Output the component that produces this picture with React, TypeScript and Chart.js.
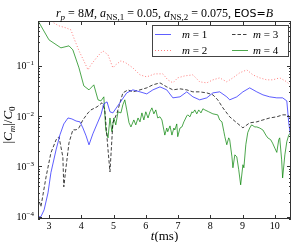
import React, { useEffect, useRef } from "react";
import { Chart, registerables } from "chart.js";
Chart.register(...registerables);

const xTicks = [3, 4, 5, 6, 7, 8, 9, 10];
const yTicks = [1e-4, 1e-3, 1e-2, 1e-1];
const yTickExp = ["\u22124", "\u22123", "\u22122", "\u22121"];
const legendNums = ["1", "2", "3", "4"];

const t1 = [2.66,2.75,2.85,2.97,3.06,3.22,3.34,3.46,3.59,3.71,3.84,3.96,4.05,4.15,4.24,4.36,4.49,4.61,4.70,4.80,4.89,4.98,5.11,5.26,5.41,5.60,5.82,6.03,6.22,6.44,6.65,6.84,7.06,7.27,7.46,7.67,7.89,8.08,8.29,8.51,8.60,8.82,9.01,9.22,9.44,9.63,9.84,10.06,10.24,10.37,10.43,10.49];
const m1 = [1e-4,1e-4,1.37e-4,2.98e-4,7.5e-4,2.14e-3,4.25e-3,7e-3,9.2e-3,8.8e-3,8e-3,7.7e-3,5.85e-3,4.05e-3,2.69e-3,4.45e-3,7e-3,0.0106,0.0176,0.0192,0.0122,0.0116,0.0153,0.0211,0.029,0.0333,0.0304,0.0277,0.0333,0.0382,0.0333,0.0231,0.0242,0.0304,0.0242,0.0211,0.0231,0.029,0.0304,0.0242,0.0211,0.0242,0.0304,0.0365,0.0304,0.0265,0.0242,0.0231,0.0231,0.0201,0.0074,0.0039];

const t2 = [3.0,3.15,3.31,3.53,3.68,3.77,3.93,4.08,4.21,4.30,4.52,4.67,4.83,4.98,5.07,5.23,5.38,5.60,5.82,6.03,6.28,6.53,6.68,6.84,6.99,7.21,7.46,7.67,7.89,8.08,8.29,8.51,8.70,8.91,9.13,9.32,9.53,9.75,9.93,10.15,10.37,10.46];
const m2 = [0.85,0.716,0.624,0.569,0.52,0.36,0.199,0.126,0.0832,0.105,0.158,0.199,0.166,0.0912,0.105,0.126,0.115,0.0912,0.0662,0.0604,0.0693,0.0693,0.0527,0.0459,0.0577,0.0633,0.0662,0.0481,0.0459,0.0527,0.0577,0.0481,0.0577,0.0726,0.0832,0.0662,0.0577,0.0527,0.0527,0.0577,0.0481,0.0419];

const t3 = [2.66,2.75,2.91,3.06,3.22,3.31,3.43,3.46,3.53,3.62,3.74,3.84,3.93,4.05,4.21,4.30,4.49,4.64,4.73,4.83,4.89,4.98,5.11,5.29,5.45,5.60,5.82,6.03,6.22,6.44,6.65,6.84,7.06,7.27,7.46,7.67,7.89,8.08,8.23,8.39,8.60,8.82,9.01,9.22,9.44,9.63,9.84,10.06,10.24,10.40,10.49];
const m3 = [2.49e-4,1.57e-4,6.2e-4,1.86e-3,3.38e-3,3.88e-3,1.55e-3,3.93e-4,9.8e-4,2.94e-3,5.34e-3,5.34e-3,5.85e-3,8.4e-3,0.0116,0.0133,0.0153,0.0184,0.0133,2.14e-3,7.8e-4,7.36e-3,0.0116,0.029,0.0333,0.0304,0.0333,0.0365,0.0419,0.0459,0.0382,0.0333,0.0349,0.0333,0.0304,0.0304,0.029,0.0265,0.0211,0.0146,0.0097,7.36e-3,5.85e-3,7.36e-3,7.7e-3,8.4e-3,9.2e-3,9.7e-3,0.0106,0.0106,0.009];

const t4 = [2.66,3.0,3.37,3.62,3.74,3.93,4.08,4.24,4.39,4.52,4.61,4.70,4.76,4.83,4.89,4.95,5.01,5.07,5.14,5.23,5.29,5.35,5.41,5.48,5.54,5.63,5.69,5.76,5.82,5.88,5.94,6.00,6.07,6.13,6.19,6.25,6.31,6.37,6.44,6.50,6.56,6.59,6.65,6.68,6.75,6.81,6.87,6.90,6.96,6.99,7.06,7.12,7.18,7.21,7.27,7.30,7.37,7.43,7.46,7.52,7.58,7.64,7.71,7.77,7.83,7.95,8.08,8.23,8.29,8.36,8.42,8.45,8.51,8.57,8.60,8.67,8.70,8.76,8.82,8.88,8.94,9.01,9.04,9.10,9.16,9.22,9.28,9.38,9.44,9.53,9.63,9.72,9.78,9.87,9.93,10.0,10.06,10.12,10.15,10.21,10.24,10.31,10.37,10.43,10.49];
const m4 = [0.79,0.329,0.228,0.25,0.208,0.0912,0.04,0.0333,0.0419,0.0211,0.0201,0.0242,0.0053,0.0037,0.0092,0.0049,0.0092,0.0067,0.0122,0.0116,0.0168,0.0211,0.0133,0.0074,0.0061,0.0084,0.0067,0.0092,0.0077,0.0116,0.0084,0.0122,0.0092,0.0122,0.0146,0.0111,0.0133,0.0092,0.0097,0.0084,0.0053,0.0042,0.0058,0.0049,0.0064,0.0042,0.0058,0.0053,0.0070,0.0039,0.0058,0.0061,0.0077,0.0084,0.0101,0.0106,0.0097,0.0122,0.0116,0.0133,0.0111,0.0133,0.0116,0.0140,0.0133,0.0122,0.0111,0.0106,0.0084,0.0077,0.0049,0.0039,0.0027,0.0037,0.0034,0.00155,0.00094,0.0017,0.00155,0.00086,0.00043,0.00108,0.00094,0.0027,0.0047,0.0058,0.0067,0.0061,0.0061,0.0058,0.0053,0.0042,0.0037,0.0034,0.0029,0.0023,0.0019,0.0034,0.0037,0.00135,0.00059,0.0017,0.0031,0.0042,0.0047];

const zip = (t: number[], v: number[]) => t.slice(0, Math.min(t.length, v.length)).map((x, i) => ({ x, y: v[i] }));

const SERIF = '"Liberation Serif", "DejaVu Serif", serif';
const SANS = '"DejaVu Sans", sans-serif';

type Seg = { s: string; f: string; dy?: number };
function drawRich(ctx: CanvasRenderingContext2D, segs: Seg[], x: number, y: number, align: "center" | "left" | "right") {
  let w = 0;
  for (const g of segs) { ctx.font = g.f; w += ctx.measureText(g.s).width; }
  let cx = align === "center" ? x - w / 2 : align === "right" ? x - w : x;
  ctx.textAlign = "left";
  ctx.textBaseline = "alphabetic";
  for (const g of segs) {
    ctx.font = g.f;
    ctx.fillText(g.s, cx, y + (g.dy || 0));
    cx += ctx.measureText(g.s).width;
  }
  return w;
}

const COLORS = ["rgba(40,40,255,0.75)", "rgba(255,40,40,0.6)", "rgba(0,0,0,0.75)", "rgba(0,130,0,0.7)"];
const DASHES: number[][] = [[], [1, 2], [3.5, 2], []];

const decor = {
  id: "decor",
  afterDraw(chart: any) {
    const ctx: CanvasRenderingContext2D = chart.ctx;
    const a = chart.chartArea;
    const xs = chart.scales.x;
    const ys = chart.scales.y;
    ctx.save();
    ctx.fillStyle = "#000";
    ctx.strokeStyle = "#333";
    ctx.lineWidth = 1;
    ctx.setLineDash([]);
    // frame
    ctx.strokeRect(a.left + 0.5, a.top + 0.5, a.right - a.left - 1, a.bottom - a.top - 1);
    ctx.beginPath();
    for (const v of xTicks) {
      const px = Math.round(xs.getPixelForValue(v)) + 0.5;
      ctx.moveTo(px, a.bottom); ctx.lineTo(px, a.bottom - 4);
      ctx.moveTo(px, a.top); ctx.lineTo(px, a.top + 4);
    }
    for (const v of yTicks) {
      const py = Math.round(ys.getPixelForValue(v)) + 0.5;
      ctx.moveTo(a.left, py); ctx.lineTo(a.left + 4, py);
      ctx.moveTo(a.right, py); ctx.lineTo(a.right - 4, py);
    }
    for (let d = -5; d <= 0; d++) {
      for (let k = 2; k <= 9; k++) {
        const v = k * Math.pow(10, d);
        if (v < ys.min || v > ys.max) continue;
        const py = Math.round(ys.getPixelForValue(v)) + 0.5;
        ctx.moveTo(a.left, py); ctx.lineTo(a.left + 2, py);
        ctx.moveTo(a.right, py); ctx.lineTo(a.right - 2, py);
      }
    }
    ctx.stroke();

    // tick labels
    ctx.fillStyle = "#000";
    ctx.font = `10px ${SERIF}`;
    ctx.textAlign = "center";
    ctx.textBaseline = "alphabetic";
    for (const v of xTicks) {
      ctx.fillText(String(v), xs.getPixelForValue(v), a.bottom + 10);
    }
    yTicks.forEach((v, i) => {
      const py = ys.getPixelForValue(v);
      drawRich(ctx, [
        { s: "10", f: `10px ${SERIF}` },
        { s: yTickExp[i], f: `7px ${SERIF}`, dy: -4 },
      ], a.left - 4, py + 3.5, "right");
    });

    // title
    const it = `italic 12px ${SERIF}`;
    const rm = `12px ${SERIF}`;
    const sb = `9px ${SERIF}`;
    const sbi = `italic 9px ${SERIF}`;
    drawRich(ctx, [
      { s: "r", f: it }, { s: "p", f: sbi, dy: 3 },
      { s: " = 8", f: rm }, { s: "M", f: it }, { s: ", ", f: rm },
      { s: "a", f: it }, { s: "NS,1", f: sb, dy: 3 }, { s: " = 0.05, ", f: rm },
      { s: "a", f: it }, { s: "NS,2", f: sb, dy: 3 }, { s: " = 0.075, ", f: rm },
      { s: "EOS=", f: `11px ${SANS}` }, { s: "B", f: it },
    ], (a.left + a.right) / 2, 17, "center");

    // x label
    drawRich(ctx, [
      { s: "t", f: `italic 13px ${SERIF}` }, { s: "(ms)", f: `13px ${SERIF}` },
    ], (a.left + a.right) / 2, 240, "center");

    // y label
    ctx.save();
    ctx.translate(12, (a.top + a.bottom) / 2 + 5);
    ctx.rotate(-Math.PI / 2);
    const yl = `13px ${SERIF}`;
    const yli = `italic 13px ${SERIF}`;
    drawRich(ctx, [
      { s: "|", f: yl }, { s: "C", f: yli }, { s: "m", f: `italic 9px ${SERIF}`, dy: 3 },
      { s: "|/", f: yl }, { s: "C", f: yli }, { s: "0", f: `9px ${SERIF}`, dy: 3 },
    ], 0, 0, "center");
    ctx.restore();

    // legend
    const lx = 152, ly = 25, lw = 137, lh = 32;
    ctx.fillStyle = "#fff";
    ctx.fillRect(lx, ly, lw, lh);
    ctx.strokeStyle = "#444";
    ctx.strokeRect(lx + 0.5, ly + 0.5, lw - 1, lh - 1);
    const cols = [[155, 182], [232, 253]];
    const rows = [34, 50];
    const order = [[0, 0, 0], [1, 0, 1], [2, 1, 0], [3, 1, 1]];
    for (const [i, c, r] of order) {
      const y = rows[r] + 0.5;
      ctx.strokeStyle = COLORS[i];
      ctx.lineWidth = 1;
      ctx.setLineDash(DASHES[i]);
      ctx.beginPath();
      ctx.moveTo(cols[c][0], y); ctx.lineTo(cols[c][0] + 16, y);
      ctx.stroke();
      ctx.setLineDash([]);
      ctx.fillStyle = "#000";
      drawRich(ctx, [
        { s: "m", f: `italic 11px ${SERIF}` }, { s: " = " + legendNums[i], f: `11px ${SERIF}` },
      ], cols[c][1], rows[r] + 4, "left");
    }
    ctx.restore();
  },
};

export default function App() {
  const ref = useRef<HTMLCanvasElement>(null);
  useEffect(() => {
    const canvas = ref.current!;
    const series = [zip(t1, m1), zip(t2, m2), zip(t3, m3), zip(t4, m4)];
    const chart = new Chart(canvas, {
      type: "line",
      data: {
        datasets: series.map((d, i) => ({
          data: d,
          borderColor: COLORS[i],
          borderWidth: 1,
          borderDash: DASHES[i],
          pointRadius: 0,
          tension: 0,
          fill: false,
        })),
      },
      options: {
        responsive: false,
        animation: false,
        events: [],
        layout: { padding: { left: 0, right: 2, top: 21, bottom: 0 } },
        plugins: { legend: { display: false }, tooltip: { enabled: false }, title: { display: false } },
        scales: {
          x: {
            type: "linear",
            min: 2.66,
            max: 10.5,
            grid: { display: false },
            border: { display: false },
            ticks: { display: false },
            afterFit: (s: any) => { s.height = 23; },
          },
          y: {
            type: "logarithmic",
            min: 9e-5,
            max: 0.78,
            grid: { display: false },
            border: { display: false },
            ticks: { display: false },
            afterFit: (s: any) => { s.width = 38; },
          },
        },
      },
      plugins: [decor],
    } as any);
    return () => chart.destroy();
  }, []);
  return (
    <canvas
      ref={ref}
      width={293}
      height={242}
      style={{ position: "fixed", left: 0, top: 0, width: 293, height: 242, display: "block" }}
    />
  );
}
